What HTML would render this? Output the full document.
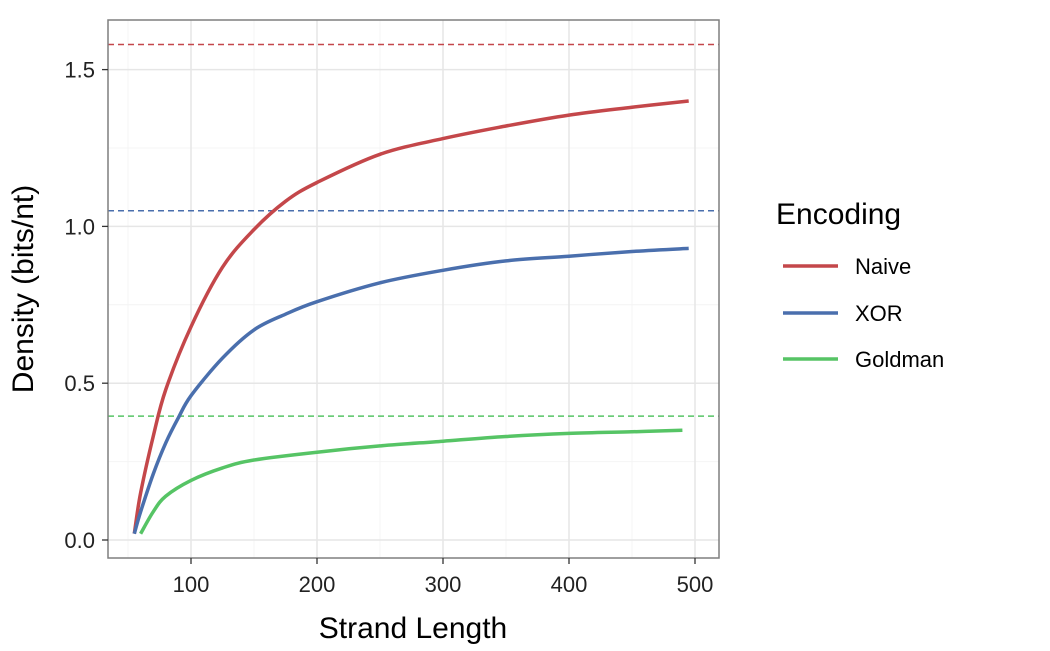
<!DOCTYPE html>
<html><head><meta charset="utf-8"><style>
body{margin:0;background:#fff;font-family:"Liberation Sans",sans-serif}
svg text{font-family:"Liberation Sans",sans-serif}
</style></head><body>
<svg id="chart" width="1050" height="646" viewBox="0 0 1050 646" xmlns="http://www.w3.org/2000/svg">
<g id="grid"></g>
<g id="lines"></g>
<rect x="108" y="20" width="611" height="538" fill="none" stroke="#7f7f7f" stroke-width="1.5"/>
<g id="axes"></g>
<text x="413" y="638" font-size="30" text-anchor="middle">Strand Length</text>
<text transform="translate(33,289) rotate(-90)" font-size="30" text-anchor="middle">Density (bits/nt)</text>
<g>
<text x="776" y="224" font-size="30">Encoding</text>
<line x1="783" y1="266" x2="838" y2="266" stroke="#c4474a" stroke-width="3.5"/>
<text x="855" y="274" font-size="22">Naive</text>
<line x1="783" y1="313" x2="838" y2="313" stroke="#4a6fad" stroke-width="3.5"/>
<text x="855" y="321" font-size="22">XOR</text>
<line x1="783" y1="359" x2="838" y2="359" stroke="#56c465" stroke-width="3.5"/>
<text x="855" y="367" font-size="22">Goldman</text>
</g>
</svg>
<script>
const xTicks=[100,200,300,400,500];
const yTicks=[0,0.5,1.0,1.5];
const yTickLabels=["0.0","0.5","1.0","1.5"];
const naiveX=[55,60,70,80,100,125,150,175,200,250,300,350,400,450,495];
const naiveY=[0.02,0.15,0.33,0.48,0.68,0.87,0.99,1.08,1.14,1.23,1.28,1.32,1.355,1.38,1.40];
const xorX=[55,60,70,80,90,100,125,150,175,200,250,300,350,400,450,495];
const xorY=[0.02,0.09,0.21,0.31,0.39,0.46,0.58,0.67,0.72,0.76,0.82,0.86,0.89,0.905,0.92,0.93];
const goldX=[60,70,80,100,125,150,200,250,300,350,400,450,490];
const goldY=[0.02,0.09,0.14,0.19,0.23,0.255,0.28,0.30,0.315,0.33,0.34,0.345,0.35];
const limits=[1.58,1.05,0.395];
const colors=["#c4474a","#4a6fad","#56c465"];
const names=["naive","xor","goldman"];
const NS="http://www.w3.org/2000/svg";
const xs=v=>65+v*1.26;
const ys=v=>540-v*313.6;
function mk(tag,attrs,parent){const e=document.createElementNS(NS,tag);for(const k in attrs)e.setAttribute(k,attrs[k]);parent.appendChild(e);return e;}
const grid=document.getElementById('grid'),lines=document.getElementById('lines'),axes=document.getElementById('axes');
for(let v=50;v<=550;v+=100){const x=xs(v);if(x>108&&x<719){const l=mk('line',{x1:x,x2:x,y1:20,y2:558,stroke:'#f4f4f4','stroke-width':1},grid);

}}
for(let v=0.25;v<1.7;v+=0.5){const l=mk('line',{x1:108,x2:719,y1:ys(v),y2:ys(v),stroke:'#f4f4f4','stroke-width':1},grid);

}
xTicks.forEach(v=>{const x=xs(v);
const l=mk('line',{x1:x,x2:x,y1:20,y2:558,stroke:'#e6e6e6','stroke-width':1.5},grid);


const t=mk('line',{x1:x,x2:x,y1:558,y2:564,stroke:'#333','stroke-width':1.3},axes);


const tx=mk('text',{x:x,y:592,'font-size':22,'text-anchor':'middle',fill:'#222'},axes);tx.textContent=v;

});
yTicks.forEach((v,i)=>{const y=ys(v);
const l=mk('line',{x1:108,x2:719,y1:y,y2:y,stroke:'#e6e6e6','stroke-width':1.5},grid);


const t=mk('line',{x1:102,x2:108,y1:y,y2:y,stroke:'#333','stroke-width':1.3},axes);


const tx=mk('text',{x:95,y:y+8,'font-size':22,'text-anchor':'end',fill:'#222'},axes);tx.textContent=yTickLabels[i];

});
limits.forEach((v,i)=>{const l=mk('line',{x1:108,x2:719,y1:ys(v),y2:ys(v),stroke:colors[i],'stroke-width':1.5,'stroke-dasharray':'6,4'},lines);

});
function smooth(P){let d='M'+P[0][0].toFixed(1)+','+P[0][1].toFixed(1);
for(let i=0;i<P.length-1;i++){const p0=P[Math.max(i-1,0)],p1=P[i],p2=P[i+1],p3=P[Math.min(i+2,P.length-1)];
const c1=[p1[0]+(p2[0]-p0[0])/6,p1[1]+(p2[1]-p0[1])/6],c2=[p2[0]-(p3[0]-p1[0])/6,p2[1]-(p3[1]-p1[1])/6];
d+=' C'+c1.map(v=>v.toFixed(1)).join(',')+' '+c2.map(v=>v.toFixed(1)).join(',')+' '+p2[0].toFixed(1)+','+p2[1].toFixed(1);}
return d;}
[[naiveX,naiveY],[xorX,xorY],[goldX,goldY]].forEach(([X,Y],i)=>{
const P=X.map((x,j)=>[xs(x),ys(Y[j])]);
const p=mk('path',{d:smooth(P),fill:'none',stroke:colors[i],'stroke-width':3.5,'stroke-linejoin':'round'},lines);

});
</script>
</body></html>
